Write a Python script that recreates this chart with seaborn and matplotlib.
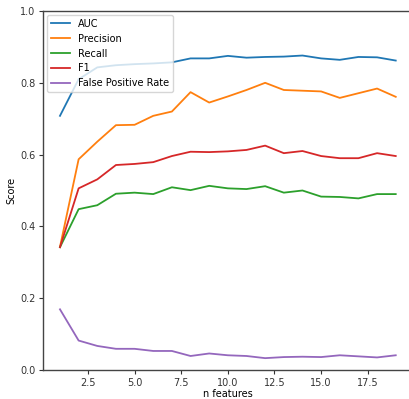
import pandas as pd
import seaborn as sns
import matplotlib
matplotlib.use("Agg")
import matplotlib.pyplot as plt

n_features = list(range(1, 20))
auc = [0.708, 0.81, 0.843, 0.849, 0.852, 0.854, 0.857, 0.868, 0.868, 0.875,
       0.870, 0.872, 0.873, 0.876, 0.868, 0.864, 0.872, 0.871, 0.862]
precision = [0.343, 0.587, 0.636, 0.682, 0.683, 0.708, 0.720, 0.774, 0.745, 0.762,
             0.780, 0.800, 0.780, 0.778, 0.776, 0.758, 0.771, 0.784, 0.761]
recall = [0.342, 0.448, 0.459, 0.491, 0.494, 0.490, 0.509, 0.501, 0.513, 0.506,
          0.504, 0.512, 0.494, 0.500, 0.483, 0.482, 0.478, 0.490, 0.490]
f1 = [0.342, 0.506, 0.531, 0.571, 0.574, 0.579, 0.596, 0.608, 0.607, 0.609,
      0.613, 0.625, 0.604, 0.610, 0.596, 0.590, 0.590, 0.604, 0.596]
fpr = [0.169, 0.082, 0.067, 0.059, 0.059, 0.053, 0.053, 0.039, 0.046, 0.041,
       0.039, 0.033, 0.036, 0.037, 0.036, 0.041, 0.038, 0.035, 0.041]
metric_names = ["AUC", "Precision", "Recall", "F1", "False Positive Rate"]

df = pd.DataFrame({"n features": n_features, "AUC": auc, "Precision": precision,
                   "Recall": recall, "F1": f1, "False Positive Rate": fpr})
long_df = df.melt(id_vars="n features", var_name="metric", value_name="Score")

plt.rcParams["font.size"] = 7
fig = plt.figure(figsize=(4.09, 3.99), dpi=100)
ax = fig.add_axes([0.1056, 0.0727, 0.903, 0.8997])
sns.lineplot(data=long_df, x="n features", y="Score", hue="metric",
             hue_order=metric_names, palette="tab10", linewidth=1.3, ax=ax)
ax.set_ylim(0, 1.0)
ax.set_xticks([2.5, 5.0, 7.5, 10.0, 12.5, 15.0, 17.5])
ax.set_xlabel("n features", labelpad=1)
ax.set_ylabel("Score", labelpad=3)
for s in ax.spines.values():
    s.set_color("#444444")
    s.set_linewidth(1.0)
ax.tick_params(colors="#333333", labelsize=7, length=3, pad=2.5)
ax.legend(loc="upper left", title=None, fontsize=7, borderaxespad=0.4)
fig.savefig("out.png", dpi=100)
